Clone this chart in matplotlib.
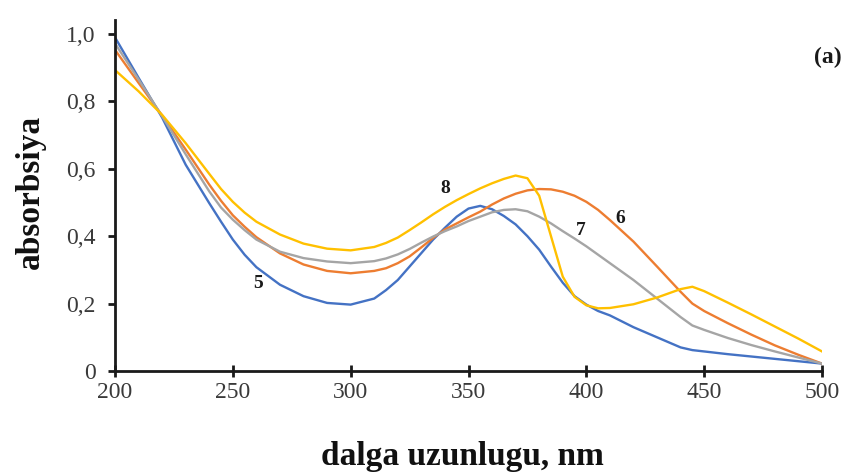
import matplotlib
matplotlib.use("Agg")
import matplotlib.pyplot as plt

# Absorption spectra of samples 5-8
wavelength = [200, 210, 220, 230, 240, 245, 250, 255, 260, 270, 280, 290, 300, 310,
              315, 320, 325, 330, 335, 340, 345, 350, 355, 360, 365, 370, 375, 380,
              385, 390, 395, 400, 405, 410, 420, 430, 440, 445, 450, 460, 470, 480,
              490, 500]

abs_5 = [0.99, 0.87, 0.752, 0.612, 0.498, 0.443, 0.39, 0.345, 0.308, 0.256, 0.222,
         0.202, 0.197, 0.215, 0.24, 0.27, 0.31, 0.35, 0.39, 0.425, 0.458, 0.482,
         0.49, 0.48, 0.46, 0.435, 0.40, 0.36, 0.31, 0.262, 0.222, 0.197, 0.178,
         0.165, 0.13, 0.10, 0.07, 0.062, 0.058, 0.05, 0.043, 0.036, 0.029, 0.022]

abs_6 = [0.953, 0.855, 0.758, 0.657, 0.553, 0.505, 0.462, 0.428, 0.397, 0.349, 0.316,
         0.297, 0.29, 0.297, 0.305, 0.32, 0.34, 0.367, 0.395, 0.42, 0.438, 0.456,
         0.473, 0.494, 0.512, 0.526, 0.536, 0.54, 0.539, 0.532, 0.52, 0.502, 0.478,
         0.448, 0.384, 0.31, 0.235, 0.2, 0.178, 0.142, 0.108, 0.076, 0.048, 0.022]

abs_7 = [0.972, 0.865, 0.756, 0.643, 0.533, 0.485, 0.449, 0.418, 0.39, 0.354, 0.335,
         0.325, 0.32, 0.326, 0.334, 0.346, 0.362, 0.381, 0.399, 0.415, 0.429, 0.445,
         0.458, 0.471, 0.478, 0.48, 0.474, 0.458, 0.438, 0.415, 0.393, 0.37, 0.345,
         0.32, 0.27, 0.215, 0.16, 0.135, 0.122, 0.098, 0.077, 0.058, 0.04, 0.022]

abs_8 = [0.893, 0.83, 0.76, 0.676, 0.585, 0.54, 0.502, 0.47, 0.443, 0.405, 0.378,
         0.363, 0.358, 0.368, 0.38, 0.396, 0.418, 0.441, 0.465, 0.487, 0.507, 0.525,
         0.542, 0.557, 0.57, 0.58, 0.572, 0.52, 0.40, 0.28, 0.22, 0.195, 0.186,
         0.187, 0.198, 0.218, 0.243, 0.25, 0.237, 0.203, 0.168, 0.132, 0.096, 0.058]

series_labels = ["5", "6", "7", "8"]
label_x = [260.7, 414.3, 397.7, 340.0]
label_y = [0.261, 0.454, 0.418, 0.543]

x_ticks = [200, 250, 300, 350, 400, 450, 500]
y_ticks = [0.0, 0.2, 0.4, 0.6, 0.8, 1.0]
y_tick_labels = ["0", "0,2", "0,4", "0,6", "0,8", "1,0"]

colors = ["#4472C4", "#ED7D31", "#A5A5A5", "#FFC000"]
serif = ["Liberation Serif", "DejaVu Serif"]
tick_color = "#3a3a3a"

fig = plt.figure(figsize=(8.48, 4.73), dpi=100)
ax = fig.add_axes([115 / 848, 1 - 371 / 473, 707 / 848, 351 / 473])

for values, color in zip([abs_5, abs_6, abs_7, abs_8], colors):
    ax.plot(wavelength, values, color=color, lw=1.7, solid_joinstyle="round")

for text, x, y in zip(series_labels, label_x, label_y):
    ax.text(x, y, text, family=serif, fontsize=14, fontweight="bold",
            color="#1a1a1a", ha="center", va="center")

ax.set_xlim(200, 500)
ax.set_ylim(0, 351 / 337)
ax.set_xticks(x_ticks)
ax.set_xticklabels([str(v) for v in x_ticks])
ax.set_yticks(y_ticks)
ax.set_yticklabels(y_tick_labels)

for side in ["top", "right"]:
    ax.spines[side].set_visible(False)
for side in ["left", "bottom"]:
    ax.spines[side].set_linewidth(2)
    ax.spines[side].set_color("#1a1a1a")

ax.tick_params(axis="y", direction="out", length=5, width=2, color="#1a1a1a",
               pad=9, labelsize=17, labelcolor=tick_color)
ax.tick_params(axis="x", direction="inout", length=8, width=2, color="#1a1a1a",
               pad=4, labelsize=17, labelcolor=tick_color)
for lab in ax.get_xticklabels() + ax.get_yticklabels():
    lab.set_family(serif)

fig.text(462 / 848, 1 - 456 / 473, "dalga uzunlugu, nm", family=serif,
         fontsize=24, fontweight="bold", ha="center", va="center", color="#111111")
fig.text(30 / 848, 1 - 192 / 473, "absorbsiya", family=serif, rotation=90,
         fontsize=24, fontweight="bold", ha="center", va="center", color="#111111")
fig.text(828 / 848, 1 - 57 / 473, "(a)", family=serif, fontsize=17,
         fontweight="bold", ha="center", va="center", color="#1a1a1a")

fig.savefig("out.png", dpi=100)
